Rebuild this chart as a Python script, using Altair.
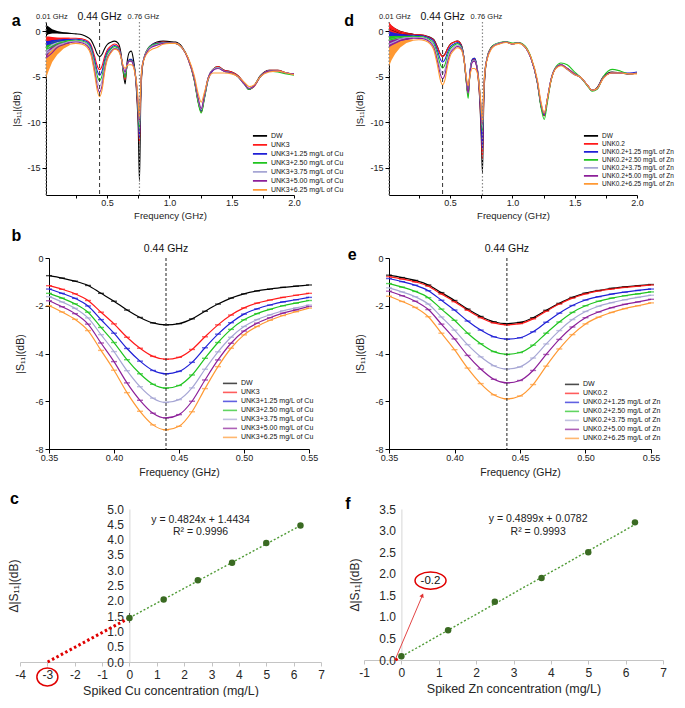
import altair as alt
import pandas as pd

FONT = "Liberation Sans"

# ---------------- shared names / colours ----------------
CU_NAMES = ["DW", "UNK3", "UNK3+1.25 mg/L of Cu", "UNK3+2.50 mg/L of Cu",
            "UNK3+3.75 mg/L of Cu", "UNK3+5.00 mg/L of Cu", "UNK3+6.25 mg/L of Cu"]
ZN_NAMES = ["DW", "UNK0.2", "UNK0.2+1.25 mg/L of Zn", "UNK0.2+2.50 mg/L of Zn",
            "UNK0.2+3.75 mg/L of Zn", "UNK0.2+5.00 mg/L of Zn", "UNK0.2+6.25 mg/L of Zn"]
COLORS = ["#000000", "#ff1a1a", "#1f1fd6", "#1fc41f", "#a6a6d4", "#8c1f99", "#ff9933"]

# ---------------- panels a / d : full sweep ----------------
FREQ_TOP = [0.01, 0.05, 0.1, 0.15, 0.2, 0.25, 0.3, 0.34, 0.37, 0.4,
            0.42, 0.44, 0.46, 0.48, 0.5, 0.53, 0.56, 0.59, 0.61, 0.63,
            0.645, 0.66, 0.68, 0.695, 0.71, 0.725, 0.74, 0.75, 0.76, 0.77,
            0.78, 0.8, 0.83, 0.86, 0.9, 0.95, 1.0, 1.05, 1.1, 1.15,
            1.2, 1.23, 1.256, 1.28, 1.31, 1.35, 1.39, 1.44, 1.5, 1.55,
            1.6, 1.64, 1.68, 1.73, 1.8, 1.87, 1.94, 2.0]

A_DW = [0.1, -0.05, -0.15, -0.2, -0.25, -0.3, -0.4, -0.65, -0.97, -1.81,
        -2.49, -2.8, -2.55, -1.93, -1.5, -1.23, -1.1, -1.35, -2.3, -4.5,
        -5.8, -3.5, -2.3, -2.2, -3.0, -4.5, -7.5, -10.5, -16.5, -8.0,
        -4.5, -2.8, -2.0, -1.5, -1.2, -1.1, -1.15, -1.2, -1.7, -3.0,
        -5.3, -7.6, -8.8, -7.3, -5.2, -4.2, -3.9, -4.3, -4.5, -4.9,
        -5.7, -6.4, -6.0, -4.9, -4.3, -4.3, -4.6, -4.7]
A_UNK3 = [-1.0, -0.95, -0.85, -0.8, -0.78, -0.78, -0.85, -1.05, -1.5, -2.76,
          -3.78, -4.24, -3.83, -2.8, -2.09, -1.65, -1.42, -1.65, -2.6, -4.4,
          -5.3, -3.8, -3.2, -3.2, -3.6, -4.6, -7.0, -9.5, -12.3, -7.0,
          -4.3, -2.8, -1.9, -1.5, -1.3, -1.2, -1.25, -1.3, -1.8, -3.1,
          -5.4, -7.7, -8.9, -7.4, -5.3, -4.2, -3.9, -4.3, -4.5, -4.9,
          -5.7, -6.4, -6.1, -5.0, -4.3, -4.3, -4.6, -4.7]
A_CU125 = [-1.5, -1.35, -1.15, -1.0, -0.92, -0.9, -0.98, -1.18, -1.69, -3.15,
           -4.32, -4.85, -4.37, -3.19, -2.35, -1.84, -1.58, -1.8, -2.6, -4.2,
           -5.0, -3.8, -3.1, -3.1, -3.5, -4.5, -6.8, -9.2, -11.8, -6.8,
           -4.2, -2.8, -1.9, -1.5, -1.35, -1.25, -1.25, -1.3, -1.8, -3.0,
           -5.3, -7.6, -8.8, -7.4, -5.4, -4.3, -4.0, -4.4, -4.6, -5.0,
           -5.8, -6.4, -6.0, -5.0, -4.4, -4.4, -4.6, -4.75]
A_CU250 = [-2.0, -1.75, -1.4, -1.2, -1.05, -1.0, -1.1, -1.35, -1.92, -3.54,
           -4.85, -5.45, -4.9, -3.54, -2.59, -2.0, -1.7, -1.9, -2.7, -4.3,
           -5.1, -3.9, -3.2, -3.2, -3.6, -4.5, -6.6, -8.8, -10.8, -6.5,
           -4.1, -2.8, -1.9, -1.55, -1.4, -1.3, -1.3, -1.35, -1.8, -3.0,
           -5.4, -7.8, -9.0, -7.5, -5.3, -4.2, -4.0, -4.4, -4.6, -5.0,
           -5.8, -6.4, -6.0, -5.0, -4.4, -4.5, -4.7, -4.85]
A_CU375 = [-2.45, -2.1, -1.6, -1.35, -1.15, -1.1, -1.2, -1.45, -2.11, -3.92,
           -5.39, -6.05, -5.44, -3.93, -2.87, -2.21, -1.88, -2.0, -2.7, -4.1,
           -4.6, -3.7, -3.3, -3.3, -3.7, -4.6, -6.4, -8.4, -10.2, -6.3,
           -4.0, -2.8, -2.0, -1.65, -1.5, -1.3, -1.3, -1.35, -1.8, -3.0,
           -5.2, -7.4, -8.6, -7.2, -5.2, -4.2, -4.0, -4.4, -4.6, -5.0,
           -5.8, -6.3, -6.0, -5.0, -4.4, -4.4, -4.6, -4.75]
A_CU500 = [-2.95, -2.5, -1.8, -1.5, -1.28, -1.2, -1.3, -1.6, -2.33, -4.34,
           -5.96, -6.7, -6.0, -4.27, -3.06, -2.31, -1.95, -2.05, -2.7, -4.0,
           -4.5, -3.7, -3.3, -3.3, -3.7, -4.6, -6.3, -8.2, -10.0, -6.2,
           -4.0, -2.9, -2.1, -1.75, -1.55, -1.35, -1.3, -1.35, -1.8, -3.0,
           -5.2, -7.3, -8.5, -7.1, -5.2, -4.3, -4.1, -4.4, -4.6, -5.0,
           -5.8, -6.3, -6.0, -5.0, -4.4, -4.4, -4.6, -4.75]
A_CU625 = [-4.0, -3.2, -2.25, -1.7, -1.45, -1.35, -1.45, -1.8, -2.57, -4.7,
           -6.42, -7.2, -6.44, -4.55, -3.22, -2.41, -2.0, -2.15, -2.8, -3.8,
           -4.1, -3.8, -3.7, -3.7, -3.9, -4.7, -6.0, -7.8, -9.6, -6.0,
           -4.0, -3.0, -2.3, -2.0, -1.8, -1.45, -1.35, -1.35, -1.8, -2.9,
           -4.9, -6.8, -7.8, -6.8, -5.3, -4.6, -4.6, -4.6, -4.7, -5.0,
           -5.6, -6.1, -5.9, -5.0, -4.5, -4.4, -4.6, -4.8]

D_DW = [0.3, 0.05, -0.2, -0.3, -0.35, -0.4, -0.5, -0.68, -0.94, -1.78,
        -2.45, -2.75, -2.5, -1.9, -1.47, -1.21, -1.08, -1.5, -2.8, -5.5,
        -7.0, -4.5, -3.1, -3.0, -3.5, -5.0, -8.0, -11.5, -15.6, -8.0,
        -4.8, -2.8, -1.8, -1.5, -1.3, -1.2, -1.4, -1.3, -1.7, -3.0,
        -5.6, -8.2, -9.3, -7.6, -5.4, -4.0, -3.7, -4.1, -4.7, -5.1,
        -5.9, -6.5, -6.2, -5.0, -4.5, -4.6, -4.7, -4.6]
D_UNK = [0.3, 0.1, -0.2, -0.3, -0.35, -0.4, -0.5, -0.72, -1.0, -1.83,
         -2.5, -2.8, -2.55, -1.93, -1.5, -1.23, -1.1, -1.55, -2.8, -5.4,
         -7.0, -4.6, -3.2, -3.1, -3.6, -5.0, -7.8, -10.8, -14.0, -7.6,
         -4.7, -2.8, -1.8, -1.5, -1.3, -1.2, -1.4, -1.3, -1.7, -3.0,
         -5.6, -8.2, -9.3, -7.6, -5.4, -4.0, -3.7, -4.1, -4.7, -5.1,
         -5.9, -6.5, -6.3, -5.1, -4.6, -4.6, -4.7, -4.6]
D_ZN125 = [-0.5, -0.45, -0.45, -0.45, -0.45, -0.5, -0.6, -0.82, -1.14, -2.18,
           -3.02, -3.4, -3.09, -2.31, -1.76, -1.43, -1.26, -1.65, -2.8, -5.2,
           -6.8, -4.4, -3.1, -3.0, -3.5, -4.8, -7.5, -10.2, -13.0, -7.3,
           -4.6, -2.8, -1.85, -1.5, -1.3, -1.2, -1.4, -1.3, -1.7, -3.0,
           -5.6, -8.2, -9.2, -7.5, -5.3, -4.0, -3.7, -4.2, -4.8, -5.1,
           -5.9, -6.5, -6.3, -5.1, -4.6, -4.6, -4.6, -4.5]
D_ZN250 = [-1.0, -0.85, -0.7, -0.6, -0.58, -0.6, -0.7, -0.98, -1.4, -2.61,
           -3.59, -4.04, -3.65, -2.68, -2.0, -1.58, -1.38, -1.75, -2.9, -5.5,
           -7.4, -4.6, -3.3, -3.2, -3.6, -4.7, -7.0, -9.0, -11.0, -6.8,
           -4.4, -2.8, -1.8, -1.45, -1.25, -1.15, -1.3, -1.25, -1.6, -2.9,
           -5.6, -8.4, -9.7, -7.9, -5.4, -3.9, -3.5, -3.7, -4.5, -5.1,
           -6.0, -6.6, -6.4, -5.0, -4.2, -4.4, -4.7, -4.6]
D_ZN375 = [-1.45, -1.2, -0.9, -0.75, -0.68, -0.7, -0.8, -1.12, -1.62, -3.02,
           -4.14, -4.65, -4.19, -3.04, -2.24, -1.75, -1.52, -1.85, -2.9, -5.2,
           -6.8, -4.5, -3.3, -3.2, -3.6, -4.7, -7.0, -8.8, -10.5, -6.6,
           -4.3, -2.8, -1.9, -1.5, -1.3, -1.2, -1.4, -1.3, -1.7, -3.0,
           -5.5, -8.0, -9.1, -7.5, -5.3, -4.0, -3.7, -4.1, -4.7, -5.1,
           -5.9, -6.5, -6.3, -5.1, -4.6, -4.6, -4.7, -4.6]
D_ZN500 = [-1.7, -1.4, -1.05, -0.85, -0.78, -0.8, -0.9, -1.25, -1.81, -3.39,
           -4.65, -5.23, -4.71, -3.41, -2.5, -1.94, -1.68, -1.95, -3.0, -5.2,
           -6.8, -4.6, -3.4, -3.3, -3.7, -4.8, -7.0, -8.7, -10.3, -6.5,
           -4.3, -2.9, -1.9, -1.55, -1.35, -1.2, -1.4, -1.3, -1.7, -3.0,
           -5.5, -8.0, -9.1, -7.5, -5.3, -4.0, -3.7, -4.1, -4.7, -5.1,
           -5.9, -6.5, -6.3, -5.1, -4.6, -4.6, -4.7, -4.6]
D_ZN625 = [-2.6, -2.1, -1.45, -1.15, -1.0, -0.95, -1.05, -1.4, -2.07, -3.84,
           -5.26, -5.9, -5.3, -3.81, -2.76, -2.12, -1.83, -2.05, -3.0, -5.0,
           -6.0, -4.8, -4.1, -4.1, -4.3, -5.0, -6.8, -8.4, -10.0, -6.5,
           -4.4, -3.0, -2.0, -1.6, -1.4, -1.25, -1.4, -1.35, -1.7, -2.9,
           -5.3, -7.8, -9.0, -7.5, -5.4, -4.1, -3.8, -4.2, -4.8, -5.1,
           -5.9, -6.5, -6.3, -5.2, -4.6, -4.6, -4.7, -4.7]

# noisy low-frequency envelopes (min / max of the trace)
BAND_F = [0.01, 0.03, 0.06, 0.1, 0.15, 0.2]
A_LO = [[-0.5, -0.35, -0.25, -0.25, -0.28, -0.3],
        [-1.4, -1.3, -1.1, -0.95, -0.86, -0.82],
        [-1.9, -1.75, -1.5, -1.3, -1.1, -0.96],
        [-2.4, -2.2, -1.9, -1.6, -1.3, -1.1],
        [-2.9, -2.6, -2.2, -1.85, -1.5, -1.22],
        [-3.5, -3.1, -2.6, -2.1, -1.65, -1.36],
        [-5.2, -4.4, -3.4, -2.6, -1.95, -1.55]]
A_HI = [[0.7, 0.5, 0.2, 0.0, -0.12, -0.2],
        [-0.6, -0.6, -0.65, -0.7, -0.72, -0.74],
        [-1.1, -1.05, -0.95, -0.9, -0.88, -0.86],
        [-1.6, -1.45, -1.2, -1.05, -1.0, -1.0],
        [-2.0, -1.75, -1.4, -1.2, -1.12, -1.1],
        [-2.4, -2.1, -1.6, -1.35, -1.22, -1.2],
        [-3.0, -2.5, -1.9, -1.55, -1.38, -1.35]]
D_LO = [[-0.3, -0.3, -0.35, -0.38, -0.4, -0.4],
        [-0.4, -0.4, -0.42, -0.42, -0.42, -0.42],
        [-1.0, -0.9, -0.8, -0.65, -0.55, -0.5],
        [-1.5, -1.3, -1.1, -0.9, -0.72, -0.64],
        [-2.0, -1.7, -1.4, -1.1, -0.9, -0.74],
        [-2.3, -2.0, -1.6, -1.3, -1.0, -0.86],
        [-3.9, -3.2, -2.5, -1.8, -1.32, -1.08]]
D_HI = [[0.9, 0.6, 0.3, 0.05, -0.15, -0.3],
        [1.0, 0.65, 0.3, 0.0, -0.15, -0.3],
        [0.0, -0.1, -0.2, -0.3, -0.35, -0.4],
        [-0.5, -0.5, -0.5, -0.5, -0.5, -0.52],
        [-0.9, -0.85, -0.72, -0.65, -0.62, -0.62],
        [-1.1, -1.0, -0.9, -0.8, -0.72, -0.7],
        [-1.7, -1.5, -1.3, -1.1, -0.98, -0.92]]

# ---------------- panels b / e : zoom around 0.44 GHz ----------------
FREQ_ZOOM = [0.35, 0.36, 0.37, 0.38, 0.39, 0.40, 0.41, 0.42, 0.43, 0.44, 0.45,
             0.46, 0.47, 0.48, 0.49, 0.50, 0.51, 0.52, 0.53, 0.54, 0.55]
B_DW = [-0.74, -0.84, -0.97, -1.15, -1.48, -1.81, -2.18, -2.49, -2.72, -2.8, -2.75,
        -2.55, -2.23, -1.93, -1.68, -1.5, -1.38, -1.30, -1.23, -1.18, -1.13]
B_UNK3 = [-1.16, -1.31, -1.50, -1.78, -2.27, -2.76, -3.32, -3.78, -4.12, -4.24, -4.16,
          -3.83, -3.30, -2.80, -2.39, -2.09, -1.89, -1.76, -1.65, -1.56, -1.48]
B_CU125 = [-1.30, -1.48, -1.69, -2.01, -2.58, -3.15, -3.79, -4.32, -4.71, -4.85, -4.75,
           -4.37, -3.76, -3.19, -2.71, -2.35, -2.13, -1.97, -1.84, -1.75, -1.65]
B_CU250 = [-1.48, -1.68, -1.92, -2.27, -2.91, -3.54, -4.26, -4.85, -5.29, -5.45, -5.34,
           -4.90, -4.20, -3.54, -2.99, -2.59, -2.33, -2.15, -2.0, -1.89, -1.78]
B_CU375 = [-1.62, -1.84, -2.11, -2.51, -3.21, -3.92, -4.72, -5.39, -5.87, -6.05, -5.93,
           -5.44, -4.66, -3.93, -3.32, -2.87, -2.58, -2.38, -2.21, -2.09, -1.97]
B_CU500 = [-1.79, -2.04, -2.33, -2.77, -3.56, -4.34, -5.23, -5.96, -6.50, -6.70, -6.56,
           -6.0, -5.11, -4.27, -3.57, -3.06, -2.73, -2.5, -2.31, -2.17, -2.03]
B_CU625 = [-2.0, -2.26, -2.57, -3.04, -3.87, -4.70, -5.64, -6.42, -6.99, -7.2, -7.05,
           -6.44, -5.47, -4.55, -3.78, -3.22, -2.87, -2.61, -2.41, -2.25, -2.1]

E_DW = [-0.72, -0.82, -0.94, -1.13, -1.45, -1.78, -2.14, -2.45, -2.67, -2.75, -2.70,
        -2.50, -2.19, -1.90, -1.65, -1.47, -1.36, -1.27, -1.21, -1.16, -1.11]
E_UNK = [-0.78, -0.88, -1.0, -1.18, -1.51, -1.83, -2.19, -2.50, -2.72, -2.8, -2.75,
         -2.55, -2.23, -1.93, -1.68, -1.5, -1.38, -1.30, -1.23, -1.18, -1.13]
E_ZN125 = [-0.86, -0.99, -1.14, -1.37, -1.77, -2.18, -2.64, -3.02, -3.30, -3.4, -3.34,
           -3.09, -2.69, -2.31, -1.99, -1.76, -1.62, -1.51, -1.43, -1.36, -1.3]
E_ZN250 = [-1.07, -1.22, -1.40, -1.66, -2.14, -2.61, -3.15, -3.59, -3.92, -4.04, -3.96,
           -3.65, -3.15, -2.68, -2.28, -2.0, -1.81, -1.68, -1.58, -1.5, -1.42]
E_ZN375 = [-1.25, -1.42, -1.62, -1.93, -2.47, -3.02, -3.63, -4.14, -4.51, -4.65, -4.56,
           -4.19, -3.60, -3.04, -2.58, -2.24, -2.02, -1.87, -1.75, -1.65, -1.56]
E_ZN500 = [-1.39, -1.58, -1.81, -2.16, -2.77, -3.39, -4.08, -4.65, -5.08, -5.23, -5.13,
           -4.71, -4.04, -3.41, -2.89, -2.5, -2.26, -2.08, -1.94, -1.84, -1.73]
E_ZN625 = [-1.6, -1.82, -2.07, -2.46, -3.15, -3.84, -4.61, -5.26, -5.73, -5.9, -5.78,
           -5.30, -4.53, -3.81, -3.21, -2.76, -2.48, -2.28, -2.12, -2.0, -1.88]

# ---------------- panels c / f : calibration ----------------
SPIKE = [0, 1.25, 2.5, 3.75, 5.0, 6.25]
C_DS11 = [1.44, 2.04, 2.67, 3.24, 3.89, 4.46]
C_ERR = [0.16, 0.03, 0.03, 0.03, 0.03, 0.03]
F_DS11 = [0.085, 0.69, 1.35, 1.9, 2.5, 3.19]
F_ERR = [0.02, 0.02, 0.02, 0.02, 0.02, 0.02]
C_FIT_X = [0, 6.25]
C_FIT_Y = [1.4434, 4.4584]
C_EXT_X = [-2.99, 0]
C_EXT_Y = [0, 1.4434]
F_FIT_X = [0, 6.25]
F_FIT_Y = [0.0782, 3.1401]
F_EXT_X = [-0.16, 0]
F_EXT_Y = [0, 0.0782]

NEG_LABEL = "datum.value < 0 ? '-' + abs(datum.value) : '' + datum.value"
SPACER_DF = pd.DataFrame({"z": [0]})


def spacer(w, h):
    return alt.Chart(SPACER_DF).mark_point(opacity=0, size=1).properties(width=w, height=h)


def long_df(freq, names, series):
    rows = []
    for nm, vals in zip(names, series):
        for f, v in zip(freq, vals):
            rows.append({"f": f, "v": v, "s": nm})
    return pd.DataFrame(rows)


def band_df(freq, names, lo, hi):
    rows = []
    for nm, l, h in zip(names, lo, hi):
        for f, a, b in zip(freq, l, h):
            rows.append({"f": f, "v": a, "v2": b, "s": nm})
    return pd.DataFrame(rows)


def legend(lx, ly, row_h, font_size=7):
    return alt.Legend(title=None, orient="none", legendX=lx, legendY=ly,
                      symbolType="stroke", symbolStrokeWidth=1.6, symbolSize=200,
                      labelFontSize=font_size, labelLimit=300, rowPadding=0, padding=0,
                      clipHeight=row_h, labelOffset=3, labelColor="#111")


def top_panel(names, series, lo, hi, letter, letter_x, lx, ly, leg_font):
    df = long_df(FREQ_TOP, names, series)
    bd = band_df(BAND_F, names, lo, hi)
    cs = alt.Scale(domain=names, range=COLORS)
    xs = alt.Scale(domain=[0.01, 2.0], nice=False, zero=False)
    ys = alt.Scale(domain=[-18, 1], nice=False, zero=False)
    xa = alt.Axis(values=[0.25, 0.5, 0.75, 1.0, 1.25, 1.5, 1.75, 2.0],
                  labelExpr="(datum.value * 2) % 1 == 0 ? format(datum.value, '.1f') : ''",
                  title="Frequency (GHz)", labelFontSize=9, titleFontSize=9.5,
                  titleFontWeight="normal", tickSize=3, labelPadding=0, titlePadding=3,
                  domainColor="#000", tickColor="#000", labelColor="#222", titleColor="#222",
                  grid=False, labelFlush=False, labelOverlap=False)
    ya = alt.Axis(values=[0, -5, -10, -15], labelExpr=NEG_LABEL, title="|S₁₁|(dB)",
                  labelFontSize=9, titleFontSize=9.5, titleFontWeight="normal", tickSize=4,
                  labelPadding=2, titlePadding=5, domainColor="#000", tickColor="#000",
                  labelColor="#222", titleColor="#222", grid=False, labelOverlap=False)
    X = alt.X("f:Q", scale=xs, axis=xa)
    Y = alt.Y("v:Q", scale=ys, axis=ya)
    leg = legend(lx, ly, 7.7, leg_font)
    band = alt.Chart(bd).mark_area(opacity=1).encode(
        x=X, y=Y, y2="v2:Q", color=alt.Color("s:N", scale=cs, legend=leg))
    lines = alt.Chart(df).mark_line(strokeWidth=1.1, interpolate="monotone").encode(
        x=X, y=Y, color=alt.Color("s:N", scale=cs, legend=leg))
    dotted = alt.Chart(pd.DataFrame({"f": [0.01, 0.76]})).mark_rule(
        color="#888", strokeDash=[1.5, 2], strokeWidth=1.2).encode(x=X)
    dashed = alt.Chart(pd.DataFrame({"f": [0.44]})).mark_rule(
        color="#333", strokeDash=[4, 3], strokeWidth=1).encode(x=X)

    def lab(f, v, t, **kw):
        return alt.Chart(pd.DataFrame({"f": [f], "v": [v], "t": [t]})).mark_text(
            font=FONT, baseline="middle", **kw).encode(x=X, y=Y, text="t:N")

    labs = [lab(0.01, 1.5, "0.01 GHz", fontSize=7.5, align="left", dx=-10, color="#222"),
            lab(0.44, 1.5, "0.44 GHz", fontSize=10.5, align="center", color="#111"),
            lab(0.76, 1.5, "0.76 GHz", fontSize=7.5, align="center", dx=4, color="#222"),
            lab(letter_x, 1.15, letter, fontSize=16, fontWeight="bold", align="center",
                color="#000")]
    return alt.layer(band, lines, dotted, dashed, *labs).properties(width=248, height=173)


def zoom_panel(names, series, letter, letter_xy, lx, ly, width):
    df = long_df(FREQ_ZOOM, names, series)
    cs = alt.Scale(domain=names, range=COLORS)
    xs = alt.Scale(domain=[0.35, 0.55], nice=False, zero=False)
    ys = alt.Scale(domain=[-8, 0], nice=False, zero=False)
    xa = alt.Axis(values=[0.35, 0.40, 0.45, 0.50, 0.55], format=".2f", title="Frequency (GHz)",
                  labelFontSize=9, titleFontSize=10.5, titleFontWeight="normal", tickSize=4,
                  labelPadding=0, titlePadding=5, domainColor="#000", tickColor="#000",
                  labelColor="#222", titleColor="#222", grid=False, labelFlush=False,
                  labelOverlap=False)
    ya = alt.Axis(values=[0, -2, -4, -6, -8], labelExpr=NEG_LABEL, title="|S₁₁|(dB)",
                  labelFontSize=9, titleFontSize=10.5, titleFontWeight="normal", tickSize=4,
                  labelPadding=2, titlePadding=9, domainColor="#000", tickColor="#000",
                  labelColor="#222", titleColor="#222", grid=False, labelOverlap=False)
    X = alt.X("f:Q", scale=xs, axis=xa)
    Y = alt.Y("v:Q", scale=ys, axis=ya)
    leg = legend(lx, ly, 8.8)
    lines = alt.Chart(df).mark_line(strokeWidth=1.2, interpolate="monotone").encode(
        x=X, y=Y, color=alt.Color("s:N", scale=cs, legend=leg))
    ticks = alt.Chart(df).mark_tick(orient="horizontal", size=6, thickness=1.4).encode(
        x=X, y=Y, color=alt.Color("s:N", scale=cs, legend=leg))
    dashed = alt.Chart(pd.DataFrame({"f": [0.44]})).mark_rule(
        color="#222", strokeDash=[3, 2], strokeWidth=1).encode(x=X)
    lab = alt.Chart(pd.DataFrame({"f": [0.44], "v": [0.37], "t": ["0.44 GHz"]})).mark_text(
        font=FONT, fontSize=10.5, align="center", baseline="middle", color="#111").encode(
        x=X, y=Y, text="t:N")
    let = alt.Chart(pd.DataFrame({"f": [letter_xy[0]], "v": [letter_xy[1]], "t": [letter]})).mark_text(
        font=FONT, fontSize=16, fontWeight="bold", align="center", baseline="middle").encode(
        x=X, y=Y, text="t:N")
    return alt.layer(lines, ticks, dashed, lab, let).properties(width=width, height=191)


def calib_panel(ys_vals, errs, fit_x, fit_y, ext_x, ext_y, xdom, ydom, yvals, offs, title_x,
                metal, eq, r2, eq_xy, letter, letter_xy):
    pts = pd.DataFrame({"x": SPIKE, "y": ys_vals, "lo": [a - b for a, b in zip(ys_vals, errs)],
                        "hi": [a + b for a, b in zip(ys_vals, errs)]})
    xs = alt.Scale(domain=xdom, nice=False, zero=False)
    ys = alt.Scale(domain=ydom, nice=False, zero=False)
    xa = alt.Axis(values=list(range(xdom[0], xdom[1] + 1)), labelExpr=NEG_LABEL,
                  title=f"Spiked {metal} concentration (mg/L)", labelFontSize=12,
                  titleFontSize=12.5, titleFontWeight="normal", domainColor="#c4c4c4",
                  tickColor="#c4c4c4", tickSize=4, labelPadding=3, titlePadding=4,
                  labelColor="#262626", titleColor="#262626", grid=False, labelFlush=False,
                  labelOverlap=False)
    ya = alt.Axis(values=yvals, format=".1f", ticks=False, domainColor="#d6d6d6", offset=offs,
                  labelPadding=6, title="Δ|S₁₁|(dB)", titleX=title_x, titleFontSize=12,
                  titleFontWeight="normal", labelFontSize=12, labelColor="#262626",
                  titleColor="#262626", grid=False, labelFlush=False, labelOverlap=False)
    X = alt.X("x:Q", scale=xs, axis=xa)
    Y = alt.Y("y:Q", scale=ys, axis=ya)
    fit = alt.Chart(pd.DataFrame({"x": fit_x, "y": fit_y})).mark_line(
        color="#4f9a35", strokeDash=[2, 2], strokeWidth=1.4).encode(x=X, y=Y)
    ext = alt.Chart(pd.DataFrame({"x": ext_x, "y": ext_y})).mark_line(
        color="#e00000", strokeDash=[2.5, 2.5], strokeWidth=3).encode(x=X, y=Y)
    err = alt.Chart(pts).mark_rule(color="#555", strokeWidth=1).encode(
        x=X, y=alt.Y("lo:Q", scale=ys, axis=ya), y2="hi:Q")
    pt = alt.Chart(pts).mark_circle(size=42, color="#3a6a22", opacity=1).encode(x=X, y=Y)
    eqs = alt.Chart(pd.DataFrame({"x": [eq_xy[0], eq_xy[0]], "y": [eq_xy[1], eq_xy[2]],
                                  "t": [eq, r2]})).mark_text(
        font=FONT, fontSize=10.5, color="#222", align="center", baseline="middle").encode(
        x=X, y=Y, text="t:N")
    let = alt.Chart(pd.DataFrame({"x": [letter_xy[0]], "y": [letter_xy[1]], "t": [letter]})).mark_text(
        font=FONT, fontSize=16, fontWeight="bold", align="center", baseline="middle").encode(
        x=X, y=Y, text="t:N")
    return [fit, ext, err, pt, eqs, let], X, Y


# panel c
c_layers, cX, cY = calib_panel(C_DS11, C_ERR, C_FIT_X, C_FIT_Y, C_EXT_X, C_EXT_Y, [-4, 7], [0, 5],
                               [0, 0.5, 1, 1.5, 2, 2.5, 3, 3.5, 4, 4.5, 5], -109.4, -108.4, "Cu",
                               "y = 0.4824x + 1.4434", "R² = 0.9996", (2.6, 4.64, 4.25),
                               "c", (-4.2, 5.34))
c_ring = alt.Chart(pd.DataFrame({"x": [-3], "y": [-0.49]})).mark_point(
    shape="M -1 0 A 1 0.85 0 1 1 1 0 A 1 0.85 0 1 1 -1 0 Z", size=441, filled=False,
    color="#e00000", strokeWidth=1.5, opacity=1).encode(x=cX, y=cY)
panel_c = alt.layer(*c_layers, c_ring).properties(width=301, height=153)

# panel f
f_layers, fX, fY = calib_panel(F_DS11, F_ERR, F_FIT_X, F_FIT_Y, F_EXT_X, F_EXT_Y, [-1, 7], [0, 3.5],
                               [0, 0.5, 1, 1.5, 2, 2.5, 3, 3.5], -37.4, -40, "Zn",
                               "y = 0.4899x + 0.0782", "R² = 0.9993", (3.66, 3.26, 2.96),
                               "f", (-1.43, 3.62))
ARROW_X = [-0.16, 0.55]
ARROW_Y = [0.02, 1.47]
f_arrow = alt.Chart(pd.DataFrame({"x": ARROW_X, "y": ARROW_Y})).mark_line(
    color="#e03030", strokeWidth=0.9).encode(x=fX, y=fY)
f_head = alt.Chart(pd.DataFrame({"x": [0.56], "y": [1.5]})).mark_point(
    shape="triangle-up", filled=True, size=22, angle=23, color="#e03030", opacity=1).encode(x=fX, y=fY)
f_ring = alt.Chart(pd.DataFrame({"x": [0.78], "y": [1.84]})).mark_point(
    shape="M -1 0 A 1 0.55 0 1 1 1 0 A 1 0.55 0 1 1 -1 0 Z", size=961, filled=False,
    color="#e00000", strokeWidth=1.5, opacity=1).encode(x=fX, y=fY)
f_lab = alt.Chart(pd.DataFrame({"x": [0.78], "y": [1.84], "t": ["-0.2"]})).mark_text(
    font=FONT, fontSize=11.5, color="#111", align="center", baseline="middle").encode(
    x=fX, y=fY, text="t:N")
panel_f = alt.layer(*f_layers, f_arrow, f_head, f_ring, f_lab).properties(width=299, height=151)

panel_a = top_panel(CU_NAMES, [A_DW, A_UNK3, A_CU125, A_CU250, A_CU375, A_CU500, A_CU625],
                    A_LO, A_HI, "a", -0.23, 206, 110, 7)
panel_d = top_panel(ZN_NAMES, [D_DW, D_UNK, D_ZN125, D_ZN250, D_ZN375, D_ZN500, D_ZN625],
                    D_LO, D_HI, "d", -0.31, 194, 110, 6.5)
panel_b = zoom_panel(CU_NAMES, [B_DW, B_UNK3, B_CU125, B_CU250, B_CU375, B_CU500, B_CU625],
                     "b", (0.325, 0.92), 173, 121, 260)
panel_e = zoom_panel(ZN_NAMES, [E_DW, E_UNK, E_ZN125, E_ZN250, E_ZN375, E_ZN500, E_ZN625],
                     "e", (0.322, 0.13), 175, 122, 262)


def row(*charts):
    return alt.hconcat(*charts, spacing=0, bounds="flush").resolve_scale(
        color="independent", x="independent", y="independent")


row1 = row(spacer(26, 173), panel_a, spacer(95, 173), panel_d)
row2 = row(spacer(29, 191), panel_b, spacer(80, 191), panel_e)
row3 = row(panel_c, spacer(43, 153), panel_f)

chart = alt.vconcat(row1, spacer(1, 8), row2, spacer(1, 12), row3,
                    spacing=0).resolve_scale(
    color="independent", x="independent", y="independent").properties(
    padding={"left": 0, "top": 4, "right": 0, "bottom": 0}).configure(
    font=FONT).configure_view(stroke=None)

chart.save("out.html", embed_options={"renderer": "svg", "actions": False})
